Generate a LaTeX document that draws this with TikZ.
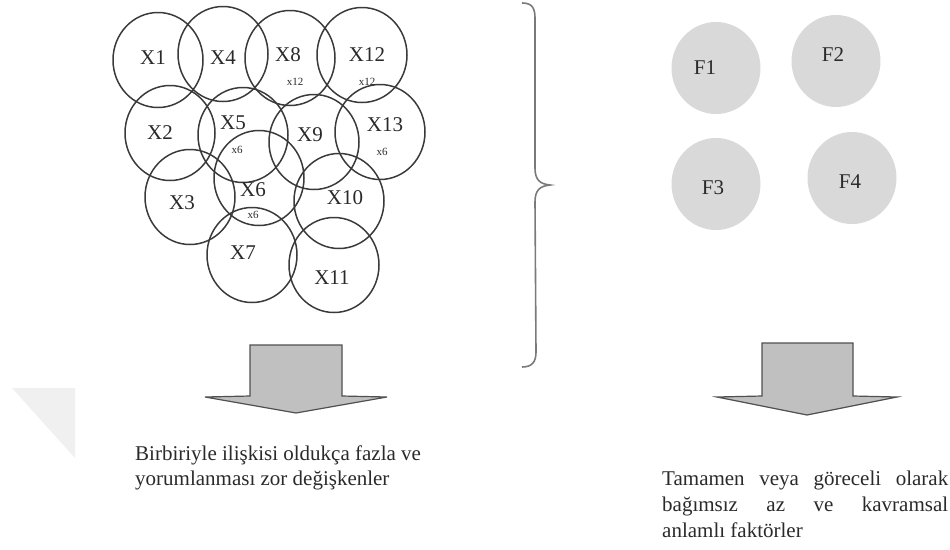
\documentclass[tikz,border=0pt]{standalone}
\usepackage{fontspec}
\setmainfont{Liberation Serif}
\usetikzlibrary{shapes.geometric}
\definecolor{inkc}{HTML}{2A2A2A}
\definecolor{ringc}{HTML}{3A3A3A}
\definecolor{fcirc}{HTML}{D9D9D9}
\definecolor{arrowfill}{HTML}{C0C0C0}
\definecolor{arrowline}{HTML}{505050}
\definecolor{bracec}{HTML}{7A7A7A}
\definecolor{wmark}{HTML}{F0F0F0}
\tikzset{
  xring/.style={ellipse, draw=ringc, line width=1.5pt, minimum width=90pt, minimum height=95pt, inner sep=0pt},
  fring/.style={ellipse, fill=fcirc, minimum width=89pt, minimum height=92pt, inner sep=0pt},
  biglab/.style={text=inkc, font=\fontsize{21}{25}\selectfont, inner sep=0pt},
  smalllab/.style={text=inkc, font=\fontsize{11}{12}\selectfont, inner sep=0pt},
  bigarrow/.style={fill=arrowfill, draw=arrowline, line width=1.2pt, line join=miter},
  bracestyle/.style={draw=bracec, line width=1.6pt}
}
\begin{document}
\begin{tikzpicture}[x=1pt,y=-1pt]
\useasboundingbox (0,0) rectangle (950,549);
% watermark
\fill[wmark] (12,388) -- (75,388) -- (75,458) -- cycle;
% overlapping variable circles
\node[xring] (c1) at (158,60) {};
\node[xring] (c4) at (223,54) {};
\node[xring] (c8) at (290,58) {};
\node[xring] (c12) at (362,55) {};
\node[xring] (c2) at (170,133) {};
\node[xring] (c5) at (243,135) {};
\node[xring] (c9) at (314,142) {};
\node[xring] (c13) at (380,132) {};
\node[xring] (c6) at (259,178) {};
\node[xring] (c3) at (190,197) {};
\node[xring] (c10) at (339,201) {};
\node[xring] (c7) at (252,255) {};
\node[xring] (c11) at (334,265) {};
% labels
\node[biglab] (l1) at (153,58) {X1};
\node[biglab] (l4) at (223,58) {X4};
\node[biglab] (l8) at (288,55) {X8};
\node[biglab] (l12) at (367,55) {X12};
\node[biglab] (l2) at (160,133) {X2};
\node[biglab] (l5) at (233,123) {X5};
\node[biglab] (l9) at (310,135) {X9};
\node[biglab] (l13) at (385,125) {X13};
\node[biglab] (l6) at (253,190) {X6};
\node[biglab] (l3) at (182,203) {X3};
\node[biglab] (l10) at (345,198) {X10};
\node[biglab] (l7) at (243,253) {X7};
\node[biglab] (l11) at (332,278) {X11};
\node[smalllab] (s8) at (295,82) {x12};
\node[smalllab] (s12) at (367,82) {x12};
\node[smalllab] (s5) at (237,150) {x6};
\node[smalllab] (s13) at (382,152) {x6};
\node[smalllab] (s6) at (253,215) {x6};
% brace
\draw[bracestyle] (522,3) .. controls (532,3) and (535,8) .. (535,18) -- (535,168)
  .. controls (535,180) and (540,184) .. (550,185)
  .. controls (540,186) and (535,190) .. (535,202) -- (536,352)
  .. controls (536,362) and (532,367) .. (522,367);
% factor circles
\node[fring] (f1) at (716,68) {};
\node[fring] (f2) at (836,61) {};
\node[fring] (f3) at (716,184) {};
\node[fring] (f4) at (852,178) {};
\node[biglab] (fl1) at (705,68) {F1};
\node[biglab] (fl2) at (833,55) {F2};
\node[biglab] (fl3) at (713,188) {F3};
\node[biglab] (fl4) at (850,182) {F4};
% arrows
\draw[bigarrow] (250,345) -- (342,345) -- (342,396) -- (387,397) -- (296,413) -- (205,397) -- (250,396) -- cycle;
\draw[bigarrow] (762,343) -- (853,343) -- (853,396) -- (897,397) -- (807,415) -- (717,397) -- (762,396) -- cycle;
% texts
\node[biglab, anchor=north west, align=left] (tleft) at (135,446)
  {Birbiriyle ilişkisi oldukça fazla ve\\yorumlanması zor değişkenler};
\node[biglab, anchor=north west, align=left, font=\fontsize{21}{26}\selectfont] (tright) at (662,471)
  {\makebox[286pt][s]{Tamamen veya göreceli olarak}\\\makebox[286pt][s]{bağımsız az ve kavramsal}\\anlamlı faktörler};
\end{tikzpicture}
\end{document}
